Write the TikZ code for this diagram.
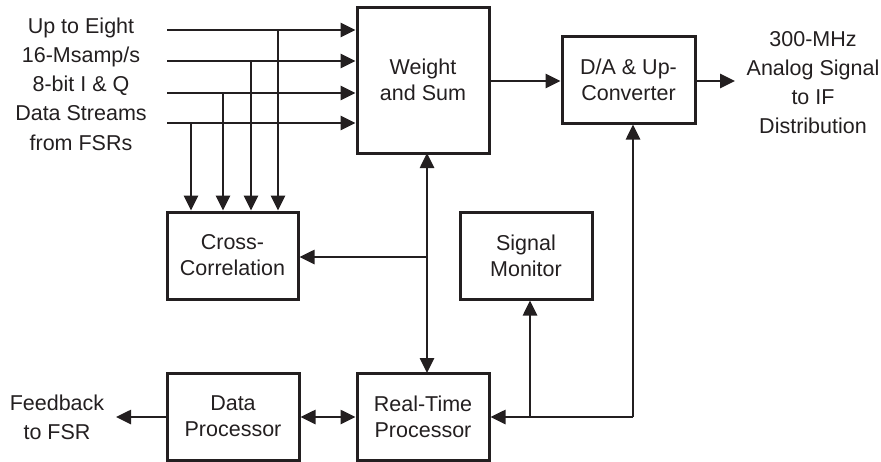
\documentclass[tikz,border=0pt]{standalone}
\usepackage{fontspec}
\setmainfont{Liberation Sans}
\usetikzlibrary{arrows.meta}
\definecolor{ink}{HTML}{231F20}
\begin{document}
\begin{tikzpicture}[x=1pt,y=-1pt,
  blk/.style={draw=ink, line width=3pt, minimum width=132pt, inner sep=0pt, align=center,
    text=ink, font=\fontsize{21.5}{26}\selectfont},
  lbl/.style={align=center, text=ink, font=\fontsize{21.5}{29.2}\selectfont, inner sep=0pt},
  conn/.style={draw=ink, line width=2.6pt, -{Triangle[length=15pt,width=14pt]}},
  conn2/.style={draw=ink, line width=2.6pt, {Triangle[length=15pt,width=14pt]}-{Triangle[length=15pt,width=14pt]}},
  plain/.style={draw=ink, line width=2.6pt}]
\useasboundingbox (0,0) rectangle (881,461);

% blocks
\node[blk, minimum height=146pt] (ws) at (423,80) {Weight\\and Sum};
\node[blk, minimum width=133pt, minimum height=87pt] (da) at (628.5,79.5) {D/A \& Up-\\Converter};
\node[blk, minimum width=131pt, minimum height=87pt] (cc) at (232.5,255.5) {Cross-\\Correlation};
\node[blk, minimum height=87pt] (sm) at (526,255.5) {Signal\\Monitor};
\node[blk, minimum height=87pt] (dp) at (233,416.5) {Data\\Processor};
\node[blk, minimum height=87pt] (rt) at (423,416.5) {Real-Time\\Processor};

% free labels
\node[lbl] (inlbl) at (81,84) {Up to Eight\\16-Msamp/s\\8-bit I \& Q\\Data Streams\\from FSRs};
\node[lbl] (outlbl) at (813,82.5) {300-MHz\\Analog Signal\\to IF\\Distribution};
\node[lbl] (fblbl) at (57,417.5) {Feedback\\to FSR};

% input streams
\coordinate (i1) at (167,30);
\coordinate (i2) at (167,61);
\coordinate (i3) at (167,93);
\coordinate (i4) at (167,123);
\coordinate (d1) at (278,30);
\coordinate (d2) at (251,61);
\coordinate (d3) at (223,93);
\coordinate (d4) at (191,123);
\draw[conn] (i1) -- (i1 -| ws.west);
\draw[conn] (i2) -- (i2 -| ws.west);
\draw[conn] (i3) -- (i3 -| ws.west);
\draw[conn] (i4) -- (i4 -| ws.west);
\draw[conn] (d1) -- (d1 |- cc.north);
\draw[conn] (d2) -- (d2 |- cc.north);
\draw[conn] (d3) -- (d3 |- cc.north);
\draw[conn] (d4) -- (d4 |- cc.north);

% weight and sum to D/A, D/A out
\coordinate (wsout) at (489,81);
\draw[conn] (wsout) -- (wsout -| da.west);
\coordinate (daout) at (735,81);
\draw[conn] (da.east |- daout) -- (daout);

% W&S <-> Real-Time processor, branch to Cross-Correlation
\coordinate (vtop) at (427,153);
\coordinate (vbot) at (427,373);
\coordinate (vj) at (427,257);
\draw[conn2] (vtop) -- (vbot);
\draw[conn] (vj) -- (vj -| cc.east);

% Data processor <-> Real-Time, feedback
\coordinate (fb) at (116,417);
\coordinate (hy) at (300,417);
\draw[conn2] (dp.east |- hy) -- (rt.west |- hy);
\draw[conn] (dp.west |- hy) -- (fb);

% Real-Time processor feed to D/A and Signal Monitor
\coordinate (rj) at (633,417);
\coordinate (mj) at (530,417);
\draw[plain] (rj) -- (mj);
\draw[conn] (mj) -- (mj |- sm.south);
\draw[conn] (mj) -- (rt.east |- mj);
\draw[conn] (rj) -- (rj |- da.south);
\end{tikzpicture}
\end{document}
